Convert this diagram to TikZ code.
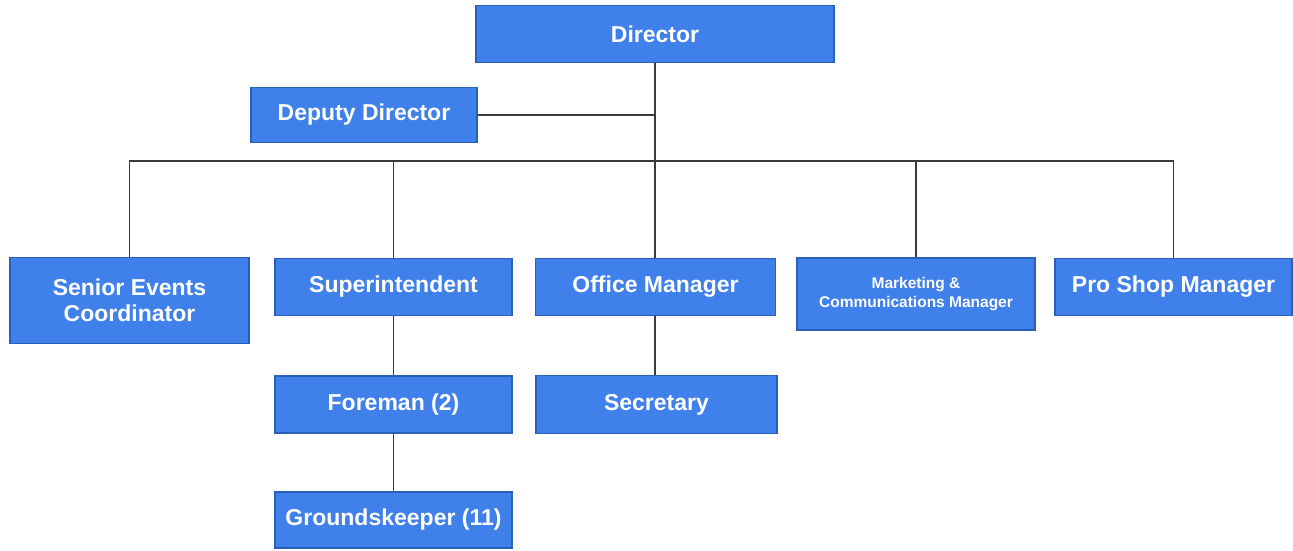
\documentclass[tikz,border=0pt]{standalone}
\usepackage{fontspec}
\setmainfont{Liberation Sans}
\definecolor{boxfill}{HTML}{3F80EA}
\definecolor{boxedge}{HTML}{2A5FB8}
\definecolor{linecol}{HTML}{3A3A3A}
\begin{document}
\begin{tikzpicture}[x=1pt,y=-1pt,
  orgbox/.style={draw=boxedge,line width=1.6pt,fill=boxfill,text=white,
    font=\bfseries\fontsize{23}{26}\selectfont,align=center,inner sep=0pt},
  conn/.style={draw=linecol,line width=1.3pt}]
\useasboundingbox (0,0) rectangle (1293,550);
\node[orgbox,minimum width=358,minimum height=57] (dir) at (655,34) {Director};
\node[orgbox,minimum width=226,minimum height=55] (dep) at (364,115) {Deputy Director};
\node[orgbox,minimum width=239,minimum height=86] (sec) at (129.5,300.5) {Senior Events\\Coordinator};
\node[orgbox,minimum width=237,minimum height=57] (sup) at (393.5,287) {Superintendent};
\node[orgbox,minimum width=240,minimum height=57] (off) at (655.5,287) {Office Manager};
\node[orgbox,minimum width=238,minimum height=72,font=\bfseries\fontsize{15.5}{19}\selectfont] (mkt) at (916,294) {Marketing \&\\Communications Manager};
\node[orgbox,minimum width=237,minimum height=57] (pro) at (1173.5,287) {Pro Shop Manager};
\node[orgbox,minimum width=237,minimum height=57] (for) at (393.5,404.5) {Foreman (2)};
\node[orgbox,minimum width=241,minimum height=58] (secr) at (656.5,404.5) {Secretary};
\node[orgbox,minimum width=237,minimum height=56] (gro) at (393.5,520) {Groundskeeper (11)};
\coordinate (hub) at (655,161);
\coordinate (dj) at (655,115);
\coordinate (bl) at (129.5,161);
\coordinate (br) at (1173.5,161);
\draw[conn] (dir.south) -- (hub);
\draw[conn] (dep.east) -- (dj);
\draw[conn] (sec.north) -- (bl) -- (br) -- (pro.north);
\draw[conn] (sup.north) -- (sup.north |- hub);
\draw[conn] (off.north -| hub) -- (hub);
\draw[conn] (mkt.north) -- (mkt.north |- hub);
\draw[conn] (sup.south) -- (for.north);
\draw[conn] (for.south) -- (gro.north);
\draw[conn] (off.south -| hub) -- (secr.north -| hub);
\end{tikzpicture}
\end{document}
